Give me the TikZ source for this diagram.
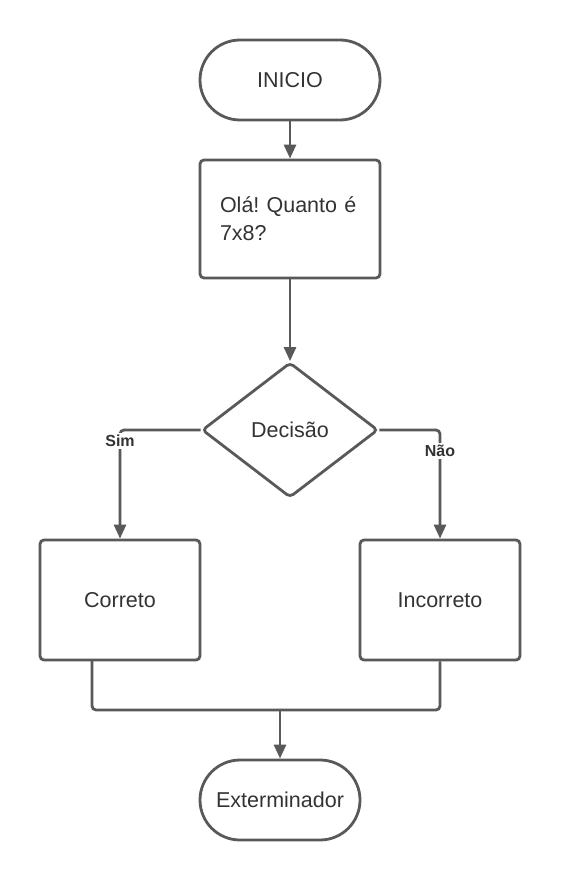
\documentclass[tikz,border=0pt]{standalone}
\usepackage{fontspec}
\setmainfont{Liberation Sans}
\usetikzlibrary{shapes.geometric,arrows.meta}
\definecolor{linegray}{HTML}{595959}
\definecolor{textgray}{HTML}{333333}
\frenchspacing

\begin{document}
\begin{tikzpicture}[x=1pt,y=-1pt,line width=2.8pt,draw=linegray,
  terminal/.style={draw=linegray, rounded corners=40pt, minimum height=80pt, text=textgray, font=\fontsize{21.5}{25}\selectfont},
  processo/.style={draw=linegray, rounded corners=4pt, text=textgray, font=\fontsize{21.5}{28}\selectfont},
  decisao/.style={diamond, draw=linegray, rounded corners=4pt, inner sep=0pt, minimum width=176pt, minimum height=135pt, text=textgray, font=\fontsize{21.5}{25}\selectfont},
  seta/.style={-{Triangle[length=14pt,width=12pt]}},
  rotulo/.style={fill=white, text=textgray, inner sep=2pt, font=\bfseries\fontsize{16}{18}\selectfont}]
  \useasboundingbox (0,0) rectangle (560,880);

  % nodes
  \node[terminal, minimum width=180pt] (inicio) at (290,80) {INICIO};
  \node[processo, minimum width=180pt, minimum height=118pt, text width=140pt, align=left] (pergunta) at (290,219) {Olá! Quanto é\\7x8?};
  \node[decisao] (decisao) at (290,430) {Decisão};
  \node[processo, minimum width=160pt, minimum height=120pt] (correto) at (120,600) {Correto};
  \node[processo, minimum width=160pt, minimum height=120pt] (incorreto) at (440,600) {Incorreto};
  \node[terminal, minimum width=160pt] (fim) at (280,800) {Exterminador};

  % connectors
  \draw[seta] (inicio) -- (pergunta);
  \draw[seta] (pergunta) -- (decisao);
  \draw[seta, rounded corners=4pt] (decisao.west) -| (correto.north);
  \draw[seta, rounded corners=4pt] (decisao.east) -| (incorreto.north);
  \node[rotulo] (sim) at (120,441) {Sim};
  \node[rotulo] (nao) at (440,451) {Não};

  \coordinate (saida) at (92,660);
  \coordinate (juncao) at (280,710);
  \draw[rounded corners=4pt] (saida) |- (juncao);
  \draw[rounded corners=4pt] (incorreto.south) |- (juncao);
  \draw[seta] (juncao) -- (fim);
\end{tikzpicture}
\end{document}
